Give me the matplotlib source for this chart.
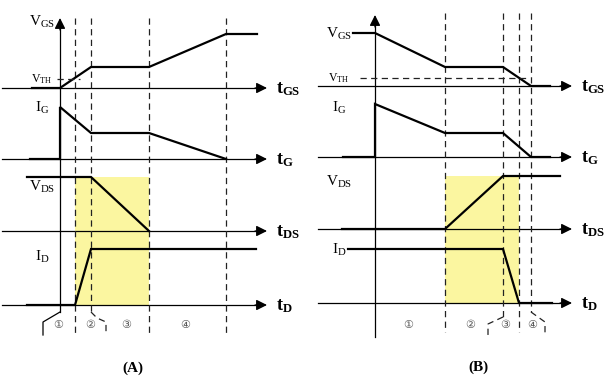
import matplotlib.pyplot as plt
from matplotlib.patches import Rectangle

plt.rcParams['mathtext.fontset'] = 'custom'
plt.rcParams['mathtext.rm'] = 'Liberation Serif'
plt.rcParams['mathtext.bf'] = 'Liberation Serif:bold'
plt.rcParams['font.family'] = ['Liberation Serif', 'DejaVu Sans']

# ---- panel (A): turn-on, coordinates in picture pixels ----
A_ORIGIN = 60
A_DASHES = [75, 91, 149, 226]
A_BASE = {'GS': 88, 'G': 159, 'DS': 231, 'D': 305}
A_VGS = ([32, 60, 91, 149, 226, 257], [88, 88, 67, 67, 34, 34])
A_IG = ([30, 60, 60, 91, 149, 226], [159, 159, 107, 133, 133, 159])
A_VDS = ([27, 91, 149], [177, 177, 231])
A_ID = ([27, 75, 91, 256], [305, 305, 249, 249])
A_VTH = 79
A_SHADE = (75, 149, 177, 305)
A_REGIONS = [58, 90, 126, 185]
A_LABEL_Y = {'VGS': 22, 'IG': 108, 'VDS': 187, 'ID': 257}

# ---- panel (B): turn-off ----
B_ORIGIN = 375
B_DASHES = [445, 503, 519, 531]
B_BASE = {'GS': 86, 'G': 157, 'DS': 229, 'D': 303}
B_VGS = ([353, 375, 445, 503, 531, 550], [33, 33, 67, 67, 86, 86])
B_IG = ([343, 375, 375, 445, 503, 531, 550], [157, 157, 104, 133, 133, 157, 157])
B_VDS = ([342, 445, 503, 560], [229, 229, 176, 176])
B_ID = ([348, 503, 519, 552], [249, 249, 303, 303])
B_VTH = 78
B_SHADE = (445, 519, 176, 303)
B_REGIONS = [408, 470, 505, 532]
B_LABEL_Y = {'VGS': 34, 'IG': 108, 'VDS': 182, 'ID': 250}

REGION_LABELS = ['①', '②', '③', '④']
AXIS_LABELS = {'GS': r'$\mathbf{t_{GS}}$', 'G': r'$\mathbf{t_{G}}$',
               'DS': r'$\mathbf{t_{DS}}$', 'D': r'$\mathbf{t_{D}}$'}
SIG_LABELS = {'VGS': r'$\mathrm{V_{GS}}$', 'IG': r'$\mathrm{I_{G}}$',
              'VDS': r'$\mathrm{V_{DS}}$', 'ID': r'$\mathrm{I_{D}}$'}

fig = plt.figure(figsize=(6.07, 3.89), dpi=100)
ax = fig.add_axes([0, 0, 1, 1])
ax.set_xlim(0, 607)
ax.set_ylim(389, 0)
ax.axis('off')

dash = dict(color='#222222', lw=0.9, ls=(0, (5, 3.5)))
wave = dict(color='black', lw=1.6, solid_joinstyle='miter')


def time_axis(x0, x1, y, label):
    ax.plot([x0, x1 - 8], [y, y], color='black', lw=0.9)
    ax.annotate('', xy=(x1, y), xytext=(x1 - 12, y),
                arrowprops=dict(arrowstyle='-|>', color='black', lw=0.9,
                                mutation_scale=16, shrinkA=0, shrinkB=0))
    ax.text(x1 + 9, y + 1, label, fontsize=13, ha='left', va='center')


def panel(origin, dashes, base, waves, vth, shade, regions, label_y,
          ax_x0, ax_x1, dash_top, dash_bot, axis_top, axis_bot, lab_x):
    x0, x1, y0, y1 = shade
    ax.add_patch(Rectangle((x0, y0), x1 - x0, y1 - y0, color='#fbf6a0', lw=0, zorder=0))
    for k in ['GS', 'G', 'DS', 'D']:
        time_axis(ax_x0, ax_x1, base[k], AXIS_LABELS[k])
    ax.plot([origin, origin], [axis_top + 8, axis_bot], color='black', lw=0.9)
    ax.annotate('', xy=(origin, axis_top), xytext=(origin, axis_top + 12),
                arrowprops=dict(arrowstyle='-|>', color='black', lw=0.9,
                                mutation_scale=16, shrinkA=0, shrinkB=0))
    for x, yb in zip(dashes, dash_bot):
        ax.plot([x, x], [dash_top, yb], **dash)
    for xs, ys in waves:
        ax.plot(xs, ys, **wave)
    for x, lab in zip(regions, REGION_LABELS):
        ax.text(x, 325, lab, fontsize=8, color='#555555', ha='center', va='center',
                family=['DejaVu Sans'])
    for k, y in label_y.items():
        ax.text(lab_x, y, SIG_LABELS[k], fontsize=11, ha='center', va='center')
    ax.text(lab_x, vth, r'$\mathrm{V_{TH}}$', fontsize=8.5, ha='center', va='center')


panel(A_ORIGIN, A_DASHES, A_BASE, [A_VGS, A_IG, A_VDS, A_ID], A_VTH, A_SHADE,
      A_REGIONS, A_LABEL_Y, 2, 267, 18, [335, 312, 335, 335], 18, 312, 42)
ax.plot([57, 80], [A_VTH, A_VTH], **dash)
ax.plot([60, 43, 43], [312, 322, 335], color='black', lw=0.9)
ax.plot([91, 97, 106, 106], [312, 318, 322, 335], **dash)
ax.text(133, 368, '(A)', fontsize=11, fontweight='bold', ha='center', va='center')

panel(B_ORIGIN, B_DASHES, B_BASE, [B_VGS, B_IG, B_VDS, B_ID], B_VTH, B_SHADE,
      B_REGIONS, B_LABEL_Y, 318, 572, 13, [332, 317, 332, 312], 15, 337, 339)
ax.plot([360, 527], [B_VTH, B_VTH], **dash)
ax.plot([503, 488, 488], [317, 324, 337], **dash)
ax.plot([531, 545, 545], [312, 322, 335], **dash)
ax.text(478, 367, '(B)', fontsize=11, fontweight='bold', ha='center', va='center')

fig.savefig('out.png', dpi=100)
